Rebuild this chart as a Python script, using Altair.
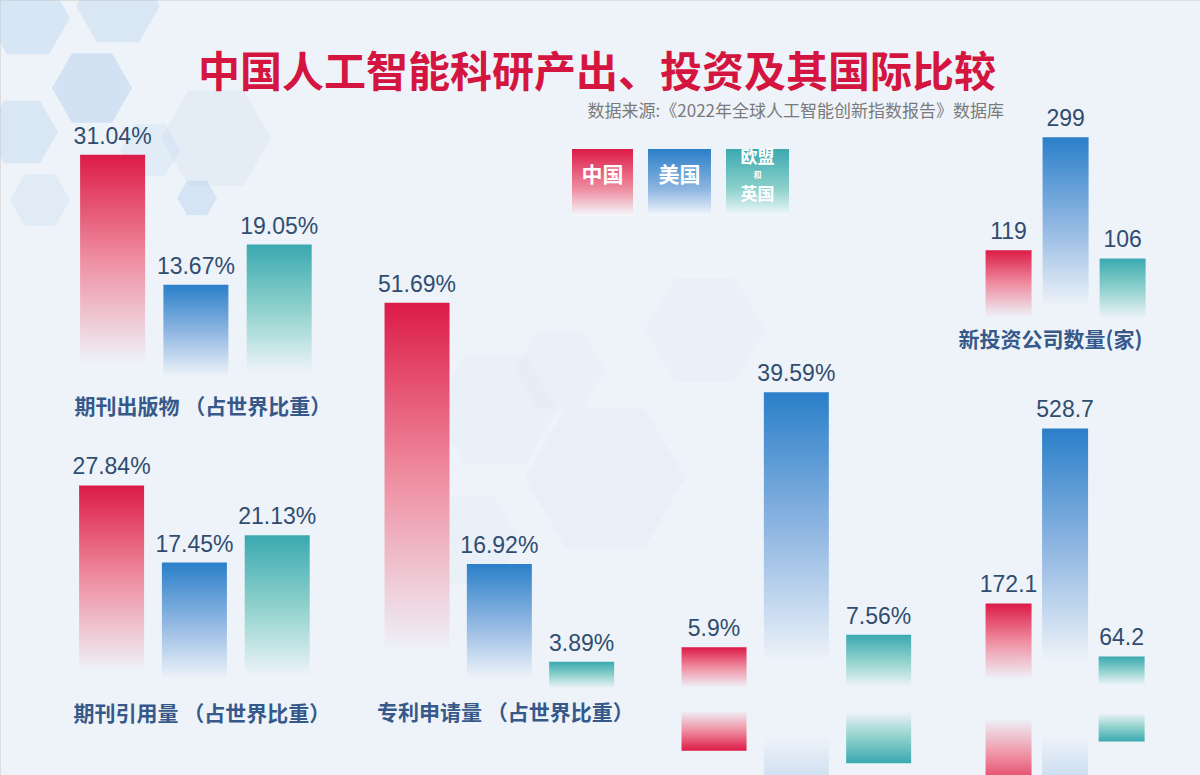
import altair as alt
import pandas as pd

# ---------------- data ----------------
series = ["中国", "美国", "欧盟和英国"]
panel_keys = ["pub", "cite", "patent", "share", "amount", "companies"]
panel_titles = ["期刊出版物 （占世界比重）", "期刊引用量 （占世界比重）",
                "专利申请量 （占世界比重）", "", "", "新投资公司数量(家)"]
journal_pub = [31.04, 13.67, 19.05]
journal_cite = [27.84, 17.45, 21.13]
patent_apply = [51.69, 16.92, 3.89]
invest_share = [5.9, 39.59, 7.56]
invest_amount = [172.1, 528.7, 64.2]
new_companies = [119, 299, 106]
is_percent = [True, True, True, True, False, False]
panel_values = [journal_pub, journal_cite, patent_apply, invest_share, invest_amount, new_companies]

title_text = "中国人工智能科研产出、投资及其国际比较"
source_text = "数据来源:《2022年全球人工智能创新指数报告》数据库"

# decorative hexagons (background ornament)
deco_x = [28, 118, 92, 22, 150, 216, 197, 40, 605, 495, 705, 470, 560]
deco_y = [18, 6, 88, 132, 150, 138, 198, 200, 478, 410, 330, 540, 370]
deco_r = [42, 42, 40, 36, 30, 55, 20, 30, 80, 62, 60, 50, 45]
deco_o = [0.32, 0.28, 0.4, 0.28, 0.16, 0.14, 0.35, 0.18, 0.07, 0.06, 0.06, 0.05, 0.05]

# ---------------- layout / style ----------------
W, H = 1200, 775
BG = "#eef3f9"
VAL_COLOR = "#304d70"
LBL_COLOR = "#36598a"
TOPS = ["#dc1b47", "#2a7fc9", "#3aa9b0"]
MIDS = ["#ef8ea1", "#8db5e1", "#8ed1cc"]
# per panel: centre of first bar, step, bar width, baseline px, px per unit, label offsets
layout = {
    "pub":       dict(c0=108.5, step=84.0, w=65, base=387, k=7.48, ldx=-38, ldy=21),
    "cite":      dict(c0=107.5, step=83.5, w=65, base=692, k=7.42, ldx=-38, ldy=23),
    "patent":    dict(c0=415.5, step=83.0, w=65, base=691, k=7.51, ldx=-40, ldy=23),
    "share":     dict(c0=715.0, step=83.0, w=65, base=692, k=7.57, ldx=-38, ldy=23),
    "amount":    dict(c0=1012.0, step=57.0, w=46, base=688, k=0.491, ldx=-49, ldy=20),
    "companies": dict(c0=1012.0, step=57.5, w=46, base=325, k=0.628, ldx=-50, ldy=16),
}
MIRROR_AXIS = 699
reflect_panels = ["share", "amount"]
HEX = "M-1,0L-0.5,-0.866L0.5,-0.866L1,0L0.5,0.866L-0.5,0.866Z"


def grad(i, reverse=False, legend=False):
    if legend:
        stops = [(0, TOPS[i]), (0.6, MIDS[i]), (1.0, "#f4f8fc")]
    else:
        stops = [(0, TOPS[i]), (0.45, MIDS[i]), (0.9, BG), (1.0, BG)]
    if reverse:
        stops = [(1 - o, c) for o, c in stops][::-1]
    return alt.Gradient(gradient="linear", x1=0, x2=0, y1=0, y2=1,
                        stops=[alt.GradientStop(color=c, offset=o) for o, c in stops])


def panel(key, values, title, pct):
    L = layout[key]
    df = pd.DataFrame({
        "series": series, "idx": [0, 1, 2], "value": values, "zero": [0, 0, 0],
        "label": [f"{v:g}%" if pct else f"{v:g}" for v in values],
    })
    xs = alt.Scale(domain=[-L["c0"] / L["step"], (W - L["c0"]) / L["step"]], nice=False, zero=False)
    ys = alt.Scale(domain=[(L["base"] - H) / L["k"], L["base"] / L["k"]], nice=False, zero=False)
    X = alt.X("idx:Q", scale=xs, axis=None)
    layers = []
    for i in range(3):
        layers.append(
            alt.Chart(df).transform_filter(alt.datum.idx == i)
            .mark_bar(size=L["w"], color=grad(i))
            .encode(x=X, y=alt.Y("value:Q", scale=ys, axis=None), y2=alt.Y2("zero"))
        )
        if key in reflect_panels:
            r0 = -2 * (MIRROR_AXIS - L["base"]) / L["k"]
            layers.append(
                alt.Chart(df).transform_filter(alt.datum.idx == i)
                .transform_calculate(r_top=f"{r0}", r_bot=f"{r0} - datum.value")
                .mark_bar(size=L["w"], color=grad(i, reverse=True))
                .encode(x=X, y=alt.Y("r_top:Q", scale=ys, axis=None), y2=alt.Y2("r_bot:Q"))
            )
    layers.append(
        alt.Chart(df).mark_text(dy=-11, baseline="alphabetic", fontSize=23,
                                font="Liberation Sans", color=VAL_COLOR)
        .encode(x=X, y=alt.Y("value:Q", scale=ys, axis=None), text="label:N")
    )
    if title:
        tdf = pd.DataFrame({"idx": [0], "zero": [0], "t": [title]})
        layers.append(
            alt.Chart(tdf).mark_text(align="left", baseline="middle", dx=L["ldx"], dy=L["ldy"],
                                     fontSize=21, fontWeight="bold", font="Noto Sans CJK SC",
                                     color=LBL_COLOR)
            .encode(x=X, y=alt.Y("zero:Q", scale=ys, axis=None), text="t:N")
        )
    return alt.layer(*layers)


# decorations
deco_df = pd.DataFrame({"x": deco_x, "y": deco_y,
                        "s": [(2 * r) ** 2 for r in deco_r], "o": deco_o})
deco = alt.Chart(deco_df).mark_point(shape=HEX, filled=True, color="#a7c9ea", strokeWidth=0).encode(
    x=alt.X("x:Q", scale=alt.Scale(domain=[0, W], nice=False, zero=False), axis=None),
    y=alt.Y("y:Q", scale=alt.Scale(domain=[H, 0], nice=False, zero=False), axis=None),
    size=alt.Size("s:Q", scale=None, legend=None),
    opacity=alt.Opacity("o:Q", scale=None, legend=None),
)

panels = [panel(k, v, t, p) for k, v, t, p in zip(panel_keys, panel_values, panel_titles, is_percent)]

one = pd.DataFrame({"a": [0]})
title = alt.Chart(one).mark_text(fontSize=42, fontWeight="bold", font="Noto Sans CJK SC",
                                 color="#d3153f", align="center", baseline="middle").encode(
    x=alt.value(597), y=alt.value(74), text=alt.value(title_text))
source = alt.Chart(one).mark_text(fontSize=17, font="Noto Sans CJK SC", color="#7a7a7a",
                                  align="right", baseline="middle").encode(
    x=alt.value(1004), y=alt.value(112), text=alt.value(source_text))

legend_x = [(572, 633), (648, 711), (726, 789)]
legend_layers = []
for i, (x0, x1) in enumerate(legend_x):
    legend_layers.append(
        alt.Chart(one).mark_rect(color=grad(i, legend=True)).encode(
            x=alt.value(x0), x2=alt.value(x1), y=alt.value(149), y2=alt.value(216)))
legend_text = [("中国", 602.5, 176, 21), ("美国", 679.5, 176, 21),
               ("欧盟", 757.5, 158, 17), ("和", 757.5, 176, 8), ("英国", 757.5, 195, 17)]
for t, x, y, fs in legend_text:
    legend_layers.append(
        alt.Chart(one).mark_text(fontSize=fs, fontWeight="bold", font="Noto Sans CJK SC",
                                 color="white", align="center", baseline="middle").encode(
            x=alt.value(x), y=alt.value(y), text=alt.value(t)))

chart = alt.layer(deco, *panels, title, source, *legend_layers).resolve_scale(
    x="independent", y="independent"
).properties(
    width=W, height=H, padding=0, autosize=alt.AutoSizeParams(type="none")
).configure_view(stroke=None).configure(background=BG)

chart.save("out.html", embed_options={"renderer": "svg", "actions": False})
